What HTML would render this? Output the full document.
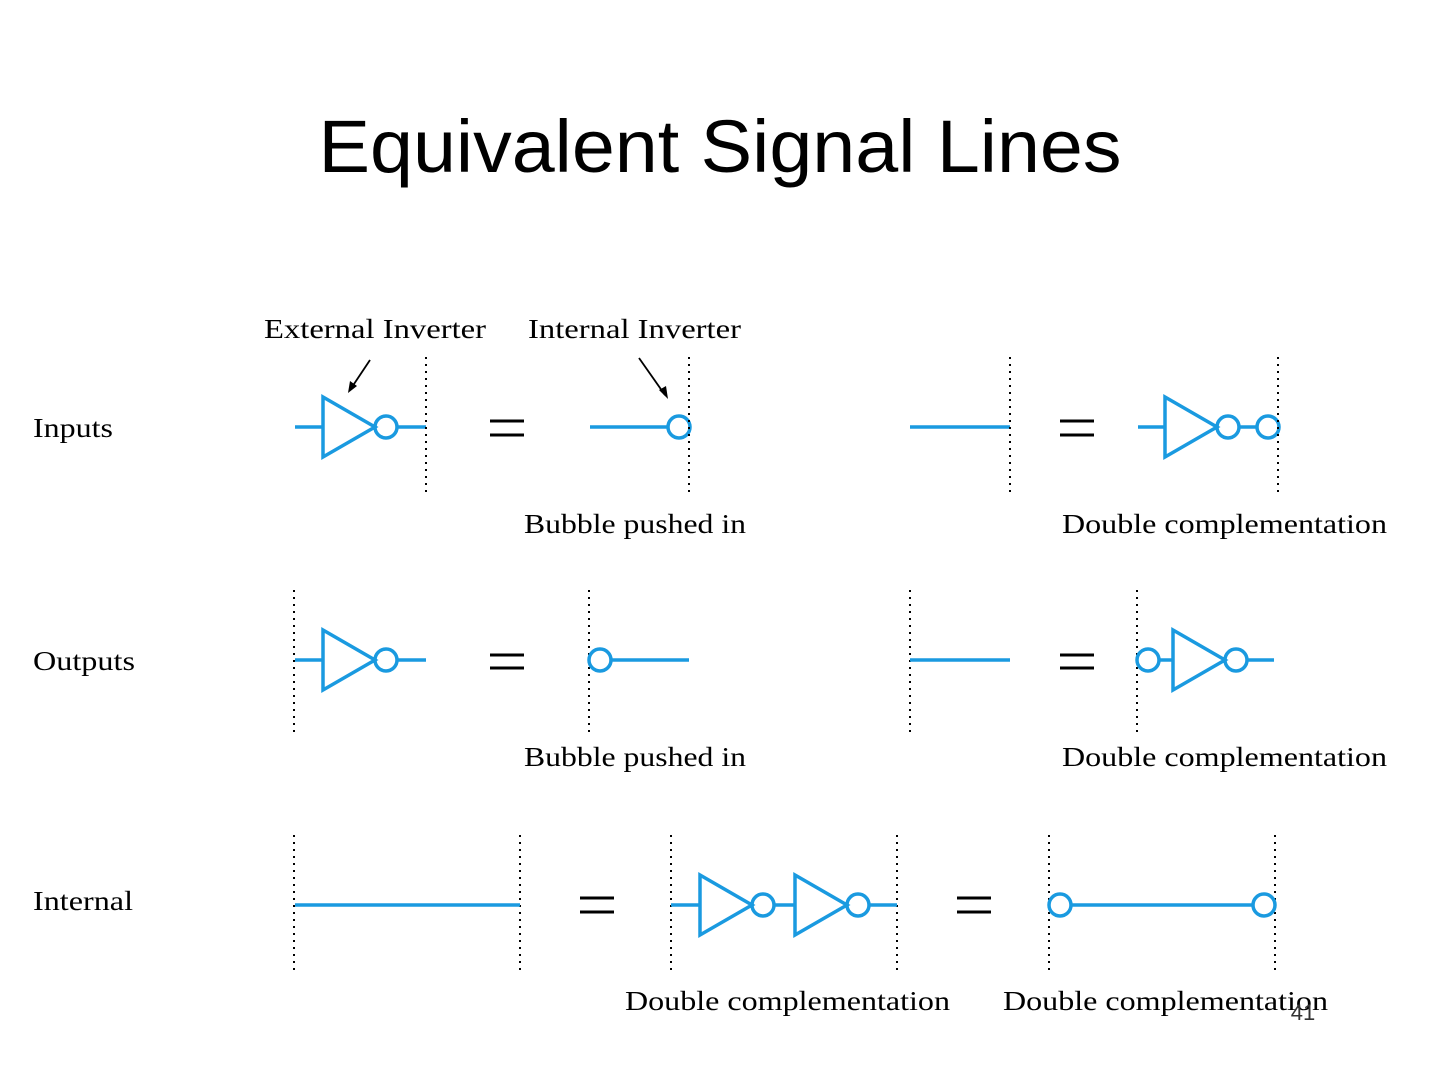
<!DOCTYPE html>
<html><head><meta charset="utf-8"><style>
html,body{margin:0;padding:0;background:#fff;}
svg{display:block;}
.b{stroke:#1a9ae0;stroke-width:3.5;fill:none;}
.d{stroke:#000;stroke-width:2;stroke-dasharray:2 5;fill:none;}
.e{stroke:#000;stroke-width:3;}
.t{font-family:"Liberation Serif",serif;font-size:27px;fill:#000;}
</style></head><body>
<svg width="1440" height="1080" viewBox="0 0 1440 1080" xmlns="http://www.w3.org/2000/svg">
<text x="720" y="172" text-anchor="middle" font-family="Liberation Sans, sans-serif" font-size="74" textLength="803" lengthAdjust="spacingAndGlyphs">Equivalent Signal Lines</text>

<text class="t" x="264" y="338" textLength="222" lengthAdjust="spacingAndGlyphs">External Inverter</text>
<text class="t" x="528" y="338" textLength="213" lengthAdjust="spacingAndGlyphs">Internal Inverter</text>
<line x1="370" y1="360" x2="350" y2="390" stroke="#000" stroke-width="1.8"/>
<polygon points="348,393 350,381 357,386" fill="#000"/>
<line x1="639" y1="358" x2="665" y2="395" stroke="#000" stroke-width="1.8"/>
<polygon points="668,399 659,390 666,386" fill="#000"/>

<text class="t" x="33" y="437" textLength="80" lengthAdjust="spacingAndGlyphs">Inputs</text>
<text class="t" x="33" y="670" textLength="102" lengthAdjust="spacingAndGlyphs">Outputs</text>
<text class="t" x="33" y="910" textLength="100" lengthAdjust="spacingAndGlyphs">Internal</text>

<!-- Row 1 -->
<line class="b" x1="295" y1="427" x2="323" y2="427"/>
<polygon class="b" points="323,397 323,457 375,427"/>
<circle class="b" cx="386" cy="427" r="11"/>
<line class="b" x1="397" y1="427" x2="426" y2="427"/>
<line class="d" x1="426" y1="357" x2="426" y2="497"/>
<line class="e" x1="490" y1="421" x2="524" y2="421"/><line class="e" x1="490" y1="435" x2="524" y2="435"/>
<line class="b" x1="590" y1="427" x2="668" y2="427"/>
<circle class="b" cx="679" cy="427" r="11"/>
<line class="d" x1="689" y1="357" x2="689" y2="497"/>
<text class="t" x="524" y="533" textLength="222" lengthAdjust="spacingAndGlyphs">Bubble pushed in</text>

<line class="b" x1="910" y1="427" x2="1010" y2="427"/>
<line class="d" x1="1010" y1="357" x2="1010" y2="497"/>
<line class="e" x1="1060" y1="421" x2="1094" y2="421"/><line class="e" x1="1060" y1="435" x2="1094" y2="435"/>
<line class="b" x1="1138" y1="427" x2="1165" y2="427"/>
<polygon class="b" points="1165,397 1165,457 1217,427"/>
<circle class="b" cx="1228" cy="427" r="11"/>
<line class="b" x1="1239" y1="427" x2="1257" y2="427"/>
<circle class="b" cx="1268" cy="427" r="11"/>
<line class="d" x1="1278" y1="357" x2="1278" y2="497"/>
<text class="t" x="1062" y="533" textLength="325" lengthAdjust="spacingAndGlyphs">Double complementation</text>

<!-- Row 2 -->
<line class="d" x1="294" y1="590" x2="294" y2="732"/>
<line class="b" x1="295" y1="660" x2="323" y2="660"/>
<polygon class="b" points="323,630 323,690 375,660"/>
<circle class="b" cx="386" cy="660" r="11"/>
<line class="b" x1="397" y1="660" x2="426" y2="660"/>
<line class="e" x1="490" y1="655" x2="524" y2="655"/><line class="e" x1="490" y1="668" x2="524" y2="668"/>
<line class="d" x1="589" y1="590" x2="589" y2="732"/>
<circle class="b" cx="600" cy="660" r="11"/>
<line class="b" x1="611" y1="660" x2="689" y2="660"/>
<text class="t" x="524" y="766" textLength="222" lengthAdjust="spacingAndGlyphs">Bubble pushed in</text>

<line class="d" x1="910" y1="590" x2="910" y2="732"/>
<line class="b" x1="910" y1="660" x2="1010" y2="660"/>
<line class="e" x1="1060" y1="655" x2="1094" y2="655"/><line class="e" x1="1060" y1="668" x2="1094" y2="668"/>
<line class="d" x1="1137" y1="590" x2="1137" y2="732"/>
<circle class="b" cx="1148" cy="660" r="11"/>
<line class="b" x1="1159" y1="660" x2="1173" y2="660"/>
<polygon class="b" points="1173,630 1173,690 1225,660"/>
<circle class="b" cx="1236" cy="660" r="11"/>
<line class="b" x1="1247" y1="660" x2="1274" y2="660"/>
<text class="t" x="1062" y="766" textLength="325" lengthAdjust="spacingAndGlyphs">Double complementation</text>

<!-- Row 3 -->
<line class="d" x1="294" y1="835" x2="294" y2="975"/>
<line class="d" x1="520" y1="835" x2="520" y2="975"/>
<line class="b" x1="295" y1="905" x2="520" y2="905"/>
<line class="e" x1="580" y1="898" x2="614" y2="898"/><line class="e" x1="580" y1="912" x2="614" y2="912"/>
<line class="d" x1="671" y1="835" x2="671" y2="975"/>
<line class="d" x1="897" y1="835" x2="897" y2="975"/>
<line class="b" x1="671" y1="905" x2="700" y2="905"/>
<polygon class="b" points="700,875 700,935 752,905"/>
<circle class="b" cx="763" cy="905" r="11"/>
<line class="b" x1="774" y1="905" x2="795" y2="905"/>
<polygon class="b" points="795,875 795,935 847,905"/>
<circle class="b" cx="858" cy="905" r="11"/>
<line class="b" x1="869" y1="905" x2="897" y2="905"/>
<line class="e" x1="957" y1="898" x2="991" y2="898"/><line class="e" x1="957" y1="912" x2="991" y2="912"/>
<line class="d" x1="1049" y1="835" x2="1049" y2="975"/>
<line class="d" x1="1275" y1="835" x2="1275" y2="975"/>
<circle class="b" cx="1060" cy="905" r="11"/>
<line class="b" x1="1071" y1="905" x2="1253" y2="905"/>
<circle class="b" cx="1264" cy="905" r="11"/>
<text class="t" x="625" y="1010" textLength="325" lengthAdjust="spacingAndGlyphs">Double complementation</text>
<text class="t" x="1003" y="1010" textLength="325" lengthAdjust="spacingAndGlyphs">Double complementation</text>
<text x="1303" y="1020" text-anchor="middle" font-family="Liberation Sans, sans-serif" font-size="22" fill="#333">41</text>
</svg>
</body></html>
